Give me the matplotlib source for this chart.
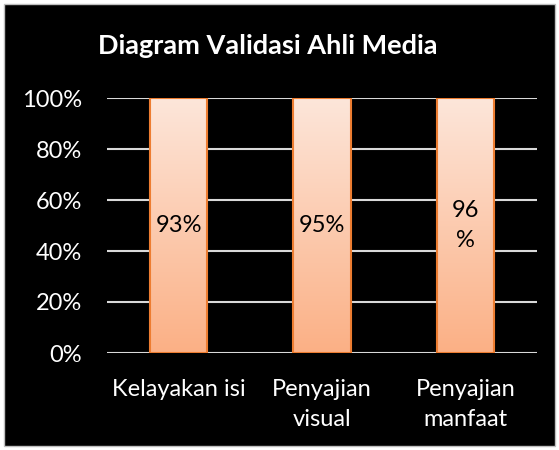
import numpy as np
import matplotlib.pyplot as plt
from matplotlib.colors import LinearSegmentedColormap
from matplotlib.patches import Rectangle

categories = ['Kelayakan isi', 'Penyajian\nvisual', 'Penyajian\nmanfaat']
values = np.array([93, 95, 96])
labels = ['93%', '95%', '96\n%']
yticks = [0, 0.2, 0.4, 0.6, 0.8, 1.0]

plt.rcParams['font.family'] = ['Lato', 'DejaVu Sans']

W, H = 559, 450
fig = plt.figure(figsize=(W / 100, H / 100), dpi=100)
fig.patch.set_facecolor('white')
# black chart area with light grey border
fig.add_artist(Rectangle((4 / W, 4 / H), (W - 8) / W, (H - 8) / H, transform=fig.transFigure,
                         facecolor='black', edgecolor='#bfbfbf', lw=1, zorder=0))

ax = fig.add_axes([107 / W, (H - 353) / H, (537 - 107) / W, (353 - 98) / H])
ax.set_facecolor('none')

# 100% stacked with a single series -> every bar fills to 1
heights = values / values
x = np.arange(len(categories))
bw = 0.40
cmap = LinearSegmentedColormap.from_list('peach', ['#fbb085', '#fde6da'])
grad = np.linspace(0, 1, 256).reshape(-1, 1)

for xi, h, lab in zip(x, heights, labels):
    ax.imshow(grad, extent=[xi - bw / 2, xi + bw / 2, 0, h], origin='lower',
              aspect='auto', cmap=cmap, zorder=2)
    ax.add_patch(Rectangle((xi - bw / 2, 0), bw, h, fill=False,
                           edgecolor='#ed7d31', lw=1.5, zorder=3))
    ax.text(xi, h / 2, lab, ha='center', va='center', fontsize=17,
            color='black', linespacing=1.55, zorder=4)

ax.set_xlim(-0.5, len(categories) - 0.5)
ax.set_ylim(0, 1)
ax.set_yticks(yticks)
ax.set_yticklabels([f'{int(t * 100)}%' for t in yticks], color='white', fontsize=17)
ax.set_xticks(x)
ax.set_xticklabels(categories, color='white', fontsize=17, linespacing=1.5)
ax.tick_params(length=0, pad=18, axis='y')
ax.tick_params(length=0, pad=19, axis='x')
ax.yaxis.grid(True, color='#d9d9d9', lw=1.5, zorder=1)
ax.set_axisbelow(True)
for s in ax.spines.values():
    s.set_visible(False)

fig.text(268 / W, 1 - 46 / H, 'Diagram Validasi Ahli Media', ha='center', va='center',
         color='white', fontsize=19.5, fontweight='bold')

fig.savefig('out.png', dpi=100, facecolor=fig.get_facecolor())
